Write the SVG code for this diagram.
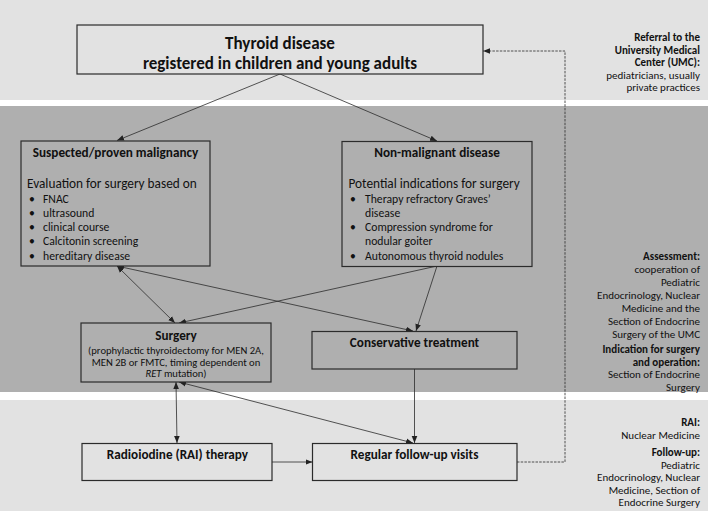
<svg xmlns="http://www.w3.org/2000/svg" width="708" height="513" viewBox="0 0 708 513">
<defs>
<style>
text{font-family:Carlito,Lato,"Liberation Sans",sans-serif;fill:#111}
.box{stroke:#2b2b2b;stroke-width:1.2}
.lt{fill:#e2e2e2}
.dk{fill:#afafaf}
.b{font-weight:bold}
.c{text-anchor:middle}
.r{text-anchor:end;font-size:11px}
.h{font-size:13.2px;font-weight:bold}
.sub{font-size:13.3px}
.li{font-size:11.7px}
.sm{font-size:10.6px}
.ln{fill:none;stroke:#2b2b2b;stroke-width:0.8}
.dash{stroke-dasharray:2.5,1.2}
</style>
<marker id="ah" viewBox="0 0 10 10" refX="10" refY="5" markerWidth="7" markerHeight="7" markerUnits="userSpaceOnUse" orient="auto-start-reverse">
<path d="M0,1 L10,5 L0,9 z" fill="#222"/>
</marker>
</defs>
<rect width="708" height="513" fill="#fff"/>
<rect class="lt" x="0" y="0" width="708" height="100"/>
<rect class="dk" x="0" y="106" width="708" height="286"/>
<rect class="lt" x="0" y="400" width="708" height="111"/>

<g id="connectors">
<line class="ln" x1="280" y1="74" x2="117" y2="140.5" marker-end="url(#ah)"/>
<line class="ln" x1="280" y1="74" x2="437" y2="141" marker-end="url(#ah)"/>
<line class="ln" x1="117" y1="266" x2="175" y2="323" marker-start="url(#ah)" marker-end="url(#ah)"/>
<line class="ln" x1="117" y1="266" x2="413" y2="331" marker-start="url(#ah)" marker-end="url(#ah)"/>
<line class="ln" x1="437" y1="266" x2="179" y2="323" marker-end="url(#ah)"/>
<line class="ln" x1="437" y1="266" x2="416" y2="331" marker-end="url(#ah)"/>
<line class="ln" x1="176" y1="382" x2="177" y2="443" marker-start="url(#ah)" marker-end="url(#ah)"/>
<line class="ln" x1="179" y1="382" x2="413" y2="443" marker-start="url(#ah)" marker-end="url(#ah)"/>
<line class="ln" x1="414.5" y1="369" x2="414.5" y2="443" marker-end="url(#ah)"/>
<line class="ln" x1="272" y1="462" x2="312.5" y2="462" marker-end="url(#ah)"/>
<polyline class="ln dash" points="517,462 565,462 565,51 483,51" marker-end="url(#ah)"/>
</g>

<g id="thyroid">
<rect class="box lt" x="77" y="25" width="406" height="49"/>
<text class="b c" x="280" y="48.5" font-size="17">Thyroid disease</text>
<text class="b c" x="280" y="68.5" font-size="17">registered in children and young adults</text>
</g>

<g id="malignancy">
<rect class="box dk" x="21" y="141" width="189" height="125"/>
<text class="h c" x="115.5" y="157">Suspected/proven malignancy</text>
<text class="sub" x="27" y="188">Evaluation for surgery based on</text>
<g class="li">
<text x="29" y="203">•</text><text x="43" y="203">FNAC</text>
<text x="29" y="217">•</text><text x="43" y="217">ultrasound</text>
<text x="29" y="231">•</text><text x="43" y="231">clinical course</text>
<text x="29" y="245">•</text><text x="43" y="245">Calcitonin screening</text>
<text x="29" y="259.5">•</text><text x="43" y="259.5">hereditary disease</text>
</g>
</g>

<g id="nonmalignant">
<rect class="box dk" x="342" y="141.5" width="190" height="125"/>
<text class="h c" x="437" y="157">Non-malignant disease</text>
<text class="sub" x="348.5" y="188">Potential indications for surgery</text>
<g class="li">
<text x="350" y="203">•</text><text x="365" y="203">Therapy refractory Graves’</text>
<text x="365" y="217">disease</text>
<text x="350" y="231">•</text><text x="365" y="231">Compression syndrome for</text>
<text x="365" y="245">nodular goiter</text>
<text x="350" y="259.5">•</text><text x="365" y="259.5">Autonomous thyroid nodules</text>
</g>
</g>

<g id="surgery">
<rect class="box dk" x="81" y="323" width="190" height="59"/>
<text class="h c" x="176" y="339.5">Surgery</text>
<text class="sm c" x="176" y="354">(prophylactic thyroidectomy for MEN 2A,</text>
<text class="sm c" x="176" y="365.5">MEN 2B or FMTC, timing dependent on</text>
<text class="sm c" x="176" y="377"><tspan font-style="italic">RET</tspan> mutation)</text>
</g>

<g id="conservative">
<rect class="box dk" x="312" y="331.5" width="205" height="37.5"/>
<text class="h c" x="414.5" y="347">Conservative treatment</text>
</g>

<g id="rai">
<rect class="box lt" x="82" y="443.5" width="190" height="37"/>
<text class="h c" x="177.5" y="459">Radioiodine (RAI) therapy</text>
</g>

<g id="followup">
<rect class="box lt" x="312.5" y="443.5" width="204.5" height="37"/>
<text class="h c" x="414.5" y="459">Regular follow-up visits</text>
</g>

<g id="side-notes">
<text class="r b" x="700" y="41">Referral to the</text>
<text class="r b" x="700" y="53.5">University Medical</text>
<text class="r b" x="700" y="66">Center (UMC):</text>
<text class="r" x="700" y="78.5">pediatricians, usually</text>
<text class="r" x="700" y="91">private practices</text>

<text class="r b" x="700" y="260">Assessment:</text>
<text class="r" x="700" y="273">cooperation of</text>
<text class="r" x="700" y="286">Pediatric</text>
<text class="r" x="700" y="299">Endocrinology, Nuclear</text>
<text class="r" x="700" y="312">Medicine and the</text>
<text class="r" x="700" y="325">Section of Endocrine</text>
<text class="r" x="700" y="338">Surgery of the UMC</text>
<text class="r b" x="700" y="353">Indication for surgery</text>
<text class="r b" x="700" y="365.5">and operation:</text>
<text class="r" x="700" y="378">Section of Endocrine</text>
<text class="r" x="700" y="390.5">Surgery</text>

<text class="r b" x="700" y="426">RAI:</text>
<text class="r" x="700" y="438.5">Nuclear Medicine</text>
<text class="r b" x="700" y="456">Follow-up:</text>
<text class="r" x="700" y="468.5">Pediatric</text>
<text class="r" x="700" y="481">Endocrinology, Nuclear</text>
<text class="r" x="700" y="493.5">Medicine, Section of</text>
<text class="r" x="700" y="506">Endocrine Surgery</text>
</g>
</svg>
